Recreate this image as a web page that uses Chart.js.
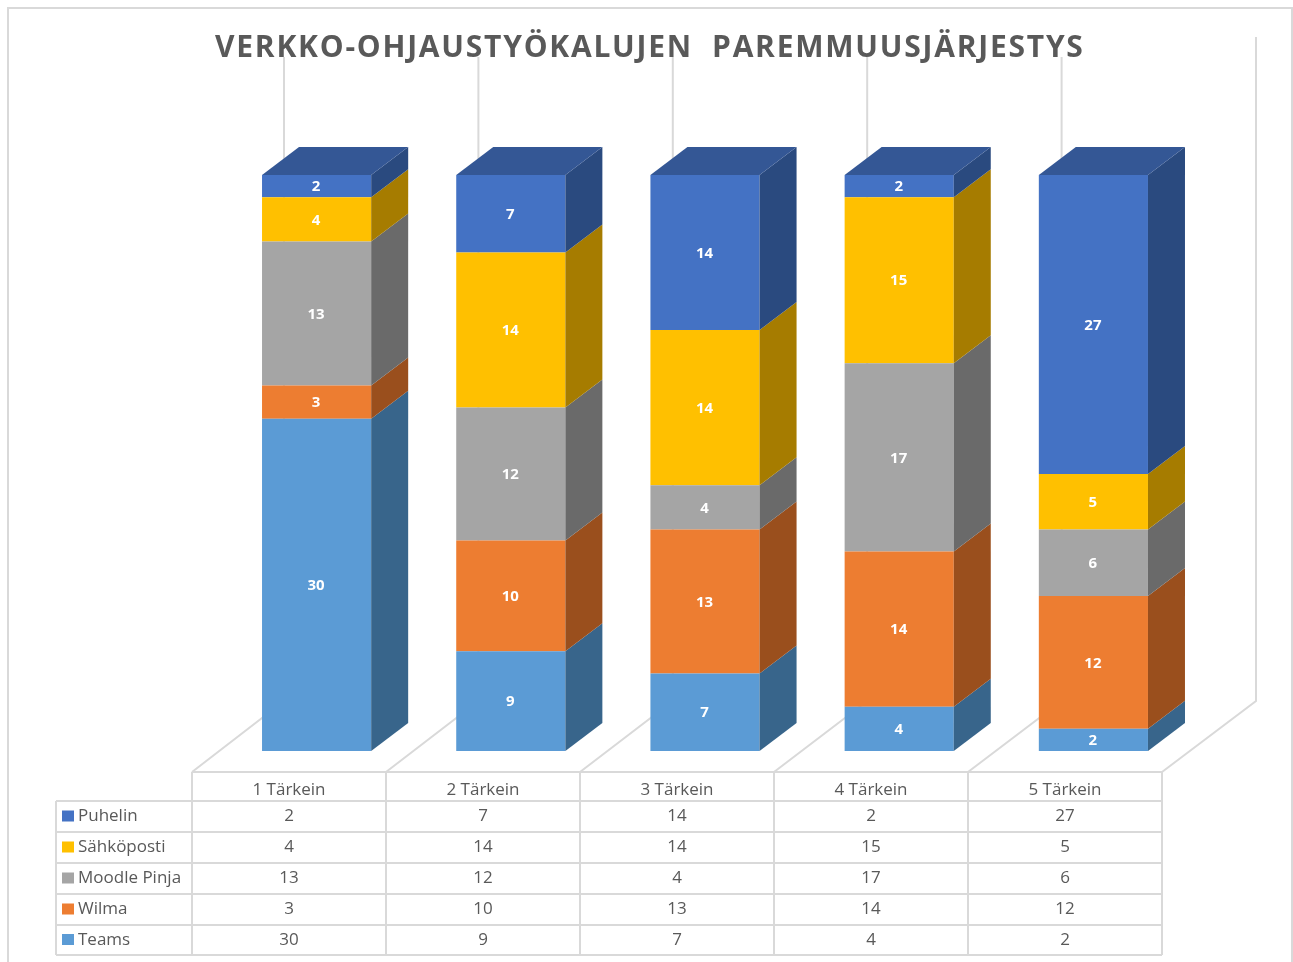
<!DOCTYPE html>
<html>
<head>
<meta charset="utf-8">
<title>Verkko-ohjaustyökalujen paremmuusjärjestys</title>
<script src="https://cdn.jsdelivr.net/npm/chart.js@4"></script>
<style>
  html, body { margin: 0; padding: 0; background: #fff; }
  #wrap { width: 1293px; height: 962px; }
</style>
</head>
<body>
<div id="wrap"><canvas id="chart" width="1293" height="962"></canvas></div>
<script>
const chartTitle = "VERKKO-OHJAUSTYÖKALUJEN  PAREMMUUSJÄRJESTYS";
const categories = ["1 Tärkein", "2 Tärkein", "3 Tärkein", "4 Tärkein", "5 Tärkein"];
const teams = [30, 9, 7, 4, 2];
const wilma = [3, 10, 13, 14, 12];
const moodlePinja = [13, 12, 4, 17, 6];
const sahkoposti = [4, 14, 14, 15, 5];
const puhelin = [2, 7, 14, 2, 27];

const FONT = '"Open Sans"';
const GRID = "#d9d9d9";
const TEXT = "#595959";
const DX = 37, DY = -28;          // bar depth
const TABLE_LEFT = 192, TABLE_SLOT = 194;
const BACK_LEFT = 284, BACK_SLOT = 194.4, BACK_FLOOR = 701, BACK_TOP = 37;
const FLOOR_Y = 772;
const rowY = [772, 801, 832, 863, 894, 925, 955];

const bar3d = {
    id: "bar3d",
    beforeDatasetsDraw(chart) {
        const ctx = chart.ctx;
        ctx.save();
        // picture frame
        ctx.strokeStyle = GRID;
        ctx.lineWidth = 2;
        ctx.beginPath();
        ctx.moveTo(8, 962); ctx.lineTo(8, 8); ctx.lineTo(1292, 8); ctx.lineTo(1292, 962);
        ctx.stroke();
        // walls and floor lines
        for (let i = 0; i <= categories.length; i++) {
            ctx.beginPath();
            ctx.moveTo(TABLE_LEFT + TABLE_SLOT * i, FLOOR_Y);
            ctx.lineTo(BACK_LEFT + BACK_SLOT * i, BACK_FLOOR);
            ctx.lineTo(BACK_LEFT + BACK_SLOT * i, BACK_TOP);
            ctx.stroke();
        }
        ctx.restore();
    },
    afterDatasetsDraw(chart) {
        const ctx = chart.ctx;
        const last = chart.data.datasets.length - 1;
        ctx.save();
        chart.data.datasets.forEach((ds, d) => {
            chart.getDatasetMeta(d).data.forEach(bar => {
                const right = bar.x + bar.width / 2, left = bar.x - bar.width / 2;
                ctx.fillStyle = ds.sideColor;
                ctx.beginPath();
                ctx.moveTo(right, bar.y);
                ctx.lineTo(right + DX, bar.y + DY);
                ctx.lineTo(right + DX, bar.base + DY);
                ctx.lineTo(right, bar.base);
                ctx.closePath();
                ctx.fill();
                if (d === last) {
                    ctx.fillStyle = ds.topColor;
                    ctx.beginPath();
                    ctx.moveTo(left, bar.y);
                    ctx.lineTo(left + DX, bar.y + DY);
                    ctx.lineTo(right + DX, bar.y + DY);
                    ctx.lineTo(right, bar.y);
                    ctx.closePath();
                    ctx.fill();
                }
            });
        });
        // value labels
        ctx.fillStyle = "#fff";
        ctx.font = "bold 15px " + FONT;
        ctx.textAlign = "center";
        ctx.textBaseline = "middle";
        chart.data.datasets.forEach((ds, d) => {
            chart.getDatasetMeta(d).data.forEach((bar, i) => {
                ctx.fillText(ds.data[i], bar.x - 0.5, (bar.y + bar.base) / 2 + 1);
            });
        });
        ctx.restore();
    },
    afterDraw(chart) {
        const ctx = chart.ctx;
        const colX = categories.map((c, i) => TABLE_LEFT + TABLE_SLOT * i);
        const tableRight = TABLE_LEFT + TABLE_SLOT * categories.length;
        const rows = chart.data.datasets.slice().reverse();
        ctx.save();
        // title on a white strip so the wall lines stop under it
        ctx.fillStyle = "#fff";
        ctx.fillRect(210, 30, 880, 27);
        ctx.fillStyle = TEXT;
        ctx.font = "bold 30px " + FONT;
        ctx.letterSpacing = "1.76px";
        ctx.textAlign = "left";
        ctx.textBaseline = "alphabetic";
        ctx.fillText(chartTitle, 215, 57);
        ctx.letterSpacing = "0px";

        // data table grid
        ctx.strokeStyle = GRID;
        ctx.lineWidth = 2;
        ctx.beginPath();
        ctx.moveTo(colX[0], rowY[0]); ctx.lineTo(tableRight, rowY[0]);
        for (let r = 1; r < rowY.length; r++) {
            ctx.moveTo(56, rowY[r]); ctx.lineTo(tableRight, rowY[r]);
        }
        ctx.moveTo(56, rowY[1]); ctx.lineTo(56, rowY[6]);
        for (let i = 0; i <= categories.length; i++) {
            const x = TABLE_LEFT + TABLE_SLOT * i;
            ctx.moveTo(x, rowY[0]); ctx.lineTo(x, rowY[6]);
        }
        ctx.stroke();

        // data table text
        ctx.font = "17px " + FONT;
        ctx.textBaseline = "middle";
        ctx.fillStyle = TEXT;
        ctx.textAlign = "center";
        categories.forEach((c, i) => ctx.fillText(c, colX[i] + TABLE_SLOT / 2, 790));
        rows.forEach((ds, r) => {
            const cy = (rowY[r + 1] + rowY[r + 2]) / 2;
            ds.data.forEach((v, i) => ctx.fillText(v, colX[i] + TABLE_SLOT / 2, cy));
            ctx.fillStyle = ds.backgroundColor;
            ctx.fillRect(62, cy - 6, 12, 11);
            ctx.fillStyle = TEXT;
            ctx.textAlign = "left";
            ctx.fillText(ds.label, 78, cy);
            ctx.textAlign = "center";
        });
        ctx.restore();
    }
};

new Chart(document.getElementById("chart"), {
    type: "bar",
    data: {
        labels: categories,
        datasets: [
            { label: "Teams", data: teams, backgroundColor: "#5b9bd5", sideColor: "#38658b" },
            { label: "Wilma", data: wilma, backgroundColor: "#ed7d31", sideColor: "#9a4f1d" },
            { label: "Moodle Pinja", data: moodlePinja, backgroundColor: "#a5a5a5", sideColor: "#6a6a6a" },
            { label: "Sähköposti", data: sahkoposti, backgroundColor: "#ffc000", sideColor: "#a67c00" },
            { label: "Puhelin", data: puhelin, backgroundColor: "#4472c4", sideColor: "#2a4a7f", topColor: "#345795" }
        ]
    },
    options: {
        responsive: false,
        animation: false,
        layout: { padding: { left: 219.5, right: 102.5, top: 175, bottom: 211 } },
        datasets: { bar: { categoryPercentage: 1, barPercentage: 0.562 } },
        plugins: { legend: { display: false }, title: { display: false }, tooltip: { enabled: false } },
        scales: {
            x: { stacked: true, display: false },
            y: { stacked: true, display: false, min: 0, max: 52 }
        }
    },
    plugins: [bar3d]
});
</script>
</body>
</html>
